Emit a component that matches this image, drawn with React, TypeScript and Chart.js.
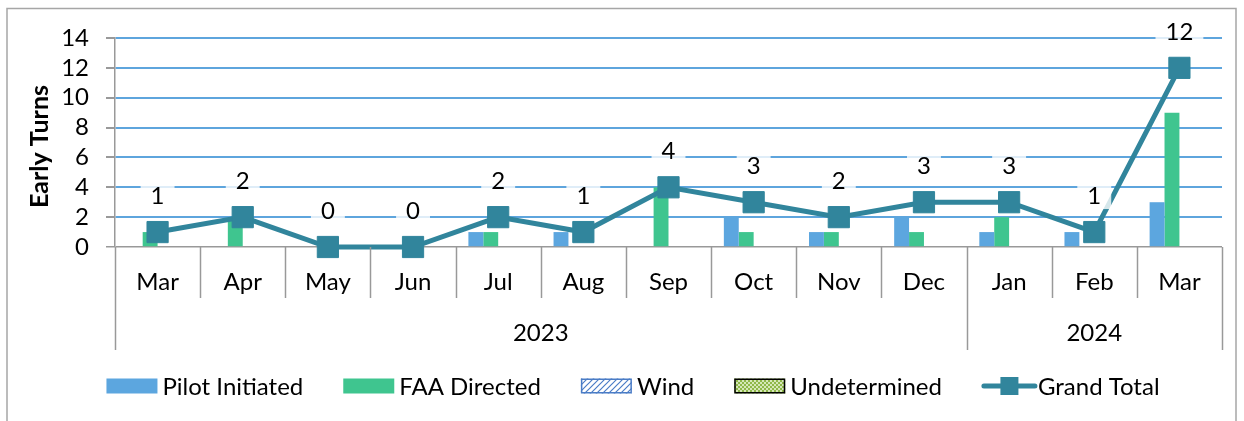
import React, { useEffect, useRef } from "react";
import { Chart, registerables } from "chart.js";

Chart.register(...registerables);

// ---- data ----
const months = ["Mar", "Apr", "May", "Jun", "Jul", "Aug", "Sep", "Oct", "Nov", "Dec", "Jan", "Feb", "Mar"];
const years = ["2023", "2024"];
const yearSpans = [10, 3];
const pilotInitiated = [0, 0, 0, 0, 1, 1, 0, 2, 1, 2, 1, 1, 3];
const faaDirected = [1, 2, 0, 0, 1, 0, 4, 1, 1, 1, 2, 0, 9];
const wind = [0, 0, 0, 0, 0, 0, 0, 0, 0, 0, 0, 0, 0];
const undetermined = [0, 0, 0, 0, 0, 0, 0, 0, 0, 0, 0, 0, 0];
const grandTotal = [1, 2, 0, 0, 2, 1, 4, 3, 2, 3, 3, 1, 12];
const yMin = 0;
const yMax = 14;
const yStep = 2;
const yTitle = "Early Turns";
const seriesNames = ["Pilot Initiated", "FAA Directed", "Wind", "Undetermined", "Grand Total"];

// ---- style ----
const FONT = "Lato, 'Noto Sans', sans-serif";
const FS = 24;
const BLUE = "#5ca6df";
const GREEN = "#3fc58f";
const TEAL = "#31859c";
const GRID = "#5ea5dd";
const AXIS = "#999999";

function windPattern(ctx: CanvasRenderingContext2D) {
  const c = document.createElement("canvas");
  c.width = 6;
  c.height = 6;
  const g = c.getContext("2d")!;
  g.fillStyle = "#ffffff";
  g.fillRect(0, 0, 6, 6);
  g.strokeStyle = "#4a7cc6";
  g.lineWidth = 1.2;
  g.beginPath();
  g.moveTo(0, 6); g.lineTo(6, 0);
  g.moveTo(-3, 3); g.lineTo(3, -3);
  g.moveTo(3, 9); g.lineTo(9, 3);
  g.stroke();
  return ctx.createPattern(c, "repeat")!;
}

function checkPattern(ctx: CanvasRenderingContext2D) {
  const c = document.createElement("canvas");
  c.width = 4;
  c.height = 4;
  const g = c.getContext("2d")!;
  g.fillStyle = "#d6e8b8";
  g.fillRect(0, 0, 4, 4);
  g.fillStyle = "#8fb84a";
  g.fillRect(0, 0, 2, 2);
  g.fillRect(2, 2, 2, 2);
  return ctx.createPattern(c, "repeat")!;
}

const decorPlugin = {
  id: "decor",
  beforeDraw(chart: any) {
    const ctx = chart.ctx as CanvasRenderingContext2D;
    ctx.save();
    ctx.fillStyle = "#ffffff";
    ctx.fillRect(0, 0, chart.width, chart.height);
    ctx.strokeStyle = "#a6a6a6";
    ctx.lineWidth = 1.5;
    ctx.strokeRect(7, 8.5, 1229, 440);
    ctx.restore();
  },
  afterDatasetsDraw(chart: any) {
    const ctx = chart.ctx as CanvasRenderingContext2D;
    const meta = chart.getDatasetMeta(4);
    ctx.save();
    ctx.font = `${FS}px ${FONT}`;
    ctx.textAlign = "center";
    ctx.textBaseline = "middle";
    meta.data.forEach((pt: any, i: number) => {
      const txt = String(grandTotal[i]);
      const tw = ctx.measureText(txt).width;
      const cx = pt.x;
      const cy = pt.y - 37;
      ctx.fillStyle = "rgba(255,255,255,0.8)";
      ctx.fillRect(cx - tw / 2 - 10, cy - 14, tw + 20, 28);
      ctx.fillStyle = "#000000";
      ctx.fillText(txt, cx, cy + 1);
    });
    ctx.restore();
  },
  afterDraw(chart: any) {
    const ctx = chart.ctx as CanvasRenderingContext2D;
    const xs = chart.scales.x;
    const area = chart.chartArea;
    const half = (xs.getPixelForValue(1) - xs.getPixelForValue(0)) / 2;
    const n = months.length;
    const yearBounds = new Set<number>([0]);
    let acc = 0;
    yearSpans.forEach((s) => { acc += s; yearBounds.add(acc); });

    ctx.save();
    // separators
    ctx.strokeStyle = AXIS;
    ctx.lineWidth = 1.5;
    for (let i = 0; i <= n; i++) {
      const x = i < n ? xs.getPixelForValue(i) - half : xs.getPixelForValue(n - 1) + half;
      const bottom = yearBounds.has(i) ? area.bottom + 103 : area.bottom + 51;
      ctx.beginPath();
      ctx.moveTo(Math.round(x) + 0.5, area.bottom);
      ctx.lineTo(Math.round(x) + 0.5, bottom);
      ctx.stroke();
    }
    // month labels
    ctx.fillStyle = "#000000";
    ctx.font = `${FS}px ${FONT}`;
    ctx.textAlign = "center";
    ctx.textBaseline = "middle";
    months.forEach((m, i) => ctx.fillText(m, xs.getPixelForValue(i), area.bottom + 35));
    // year labels
    let start = 0;
    years.forEach((y, k) => {
      const end = start + yearSpans[k] - 1;
      const cx = (xs.getPixelForValue(start) + xs.getPixelForValue(end)) / 2;
      ctx.fillText(y, cx, area.bottom + 86);
      start += yearSpans[k];
    });
    // y title
    ctx.save();
    ctx.translate(40, (area.top + area.bottom) / 2 + 4);
    ctx.rotate(-Math.PI / 2);
    ctx.font = `bold ${FS + 1}px ${FONT}`;
    ctx.fillText(yTitle, 0, 0);
    ctx.restore();

    // legend
    const ly = 386;
    const swW = 51;
    const swH = 15;
    const gapText = 5;
    const gapItem = 40;
    ctx.font = `${FS}px ${FONT}`;
    const widths = seriesNames.map((s) => swW + gapText + ctx.measureText(s).width);
    const total = widths.reduce((a, b) => a + b, 0) + gapItem * (seriesNames.length - 1);
    let x = 633 - total / 2;
    const fills: any[] = [BLUE, GREEN, windPattern(ctx), checkPattern(ctx)];
    ctx.textAlign = "left";
    seriesNames.forEach((s, i) => {
      if (i < 4) {
        ctx.fillStyle = fills[i];
        ctx.fillRect(x, ly - swH / 2, swW, swH);
        if (i === 2) {
          ctx.strokeStyle = "#4a7cc6";
          ctx.lineWidth = 1.5;
          ctx.strokeRect(x + 0.75, ly - swH / 2 + 0.75, swW - 1.5, swH - 1.5);
        } else if (i === 3) {
          ctx.strokeStyle = "#000000";
          ctx.lineWidth = 1.5;
          ctx.strokeRect(x + 0.75, ly - swH / 2 + 0.75, swW - 1.5, swH - 1.5);
        }
      } else {
        ctx.strokeStyle = TEAL;
        ctx.lineWidth = 5;
        ctx.lineCap = "round";
        ctx.beginPath();
        ctx.moveTo(x + 2, ly);
        ctx.lineTo(x + swW + 2, ly);
        ctx.stroke();
        ctx.fillStyle = TEAL;
        ctx.fillRect(x + swW / 2 + 2 - 9, ly - 9, 18, 18);
      }
      ctx.fillStyle = "#000000";
      ctx.fillText(s, x + swW + gapText, ly + 1);
      x += widths[i] + gapItem;
    });
    ctx.restore();
  },
};

export default function App() {
  const ref = useRef<HTMLCanvasElement | null>(null);

  useEffect(() => {
    if (!ref.current) return;
    const ctx = ref.current.getContext("2d")!;
    const chart = new Chart(ctx, {
      type: "bar",
      data: {
        labels: months,
        datasets: [
          { label: seriesNames[0], data: pilotInitiated, backgroundColor: BLUE, borderWidth: 0, order: 1 },
          { label: seriesNames[1], data: faaDirected, backgroundColor: GREEN, borderWidth: 0, order: 1 },
          { label: seriesNames[2], data: wind, backgroundColor: windPattern(ctx), borderWidth: 0, order: 1 },
          { label: seriesNames[3], data: undetermined, backgroundColor: checkPattern(ctx), borderWidth: 0, order: 1 },
          {
            type: "line",
            label: seriesNames[4],
            data: grandTotal,
            borderColor: TEAL,
            backgroundColor: TEAL,
            borderWidth: 5,
            pointStyle: "rect",
            pointRadius: 15,
            pointBorderWidth: 1,
            pointBorderColor: TEAL,
            pointBackgroundColor: TEAL,
            tension: 0,
            clip: false,
            order: 0,
          } as any,
        ],
      },
      options: {
        responsive: false,
        animation: false,
        devicePixelRatio: 1,
        layout: { padding: { left: 0, top: 38, right: 22, bottom: 174 } },
        datasets: { bar: { categoryPercentage: 0.7, barPercentage: 1.0 } },
        plugins: { legend: { display: false }, tooltip: { enabled: false } },
        scales: {
          x: { display: false },
          y: {
            min: yMin,
            max: yMax,
            ticks: {
              stepSize: yStep,
              autoSkip: false,
              color: "#000000",
              font: { family: FONT, size: FS },
              padding: 17,
            },
            grid: {
              color: (c: any) => (c.tick && c.tick.value === 0 ? AXIS : GRID),
              lineWidth: (c: any) => (c.tick && c.tick.value === 0 ? 1.5 : 2),
              tickColor: AXIS,
              tickLength: 9,
              drawTicks: true,
            },
            border: { display: true, color: AXIS, width: 1.5 },
            afterFit: (scale: any) => {
              scale.width = 115;
            },
          },
        },
      },
      plugins: [decorPlugin],
    });
    return () => chart.destroy();
  }, []);

  return (
    <canvas
      ref={ref}
      width={1244}
      height={421}
      style={{ position: "fixed", left: 0, top: 0, width: 1244, height: 421 }}
    />
  );
}
